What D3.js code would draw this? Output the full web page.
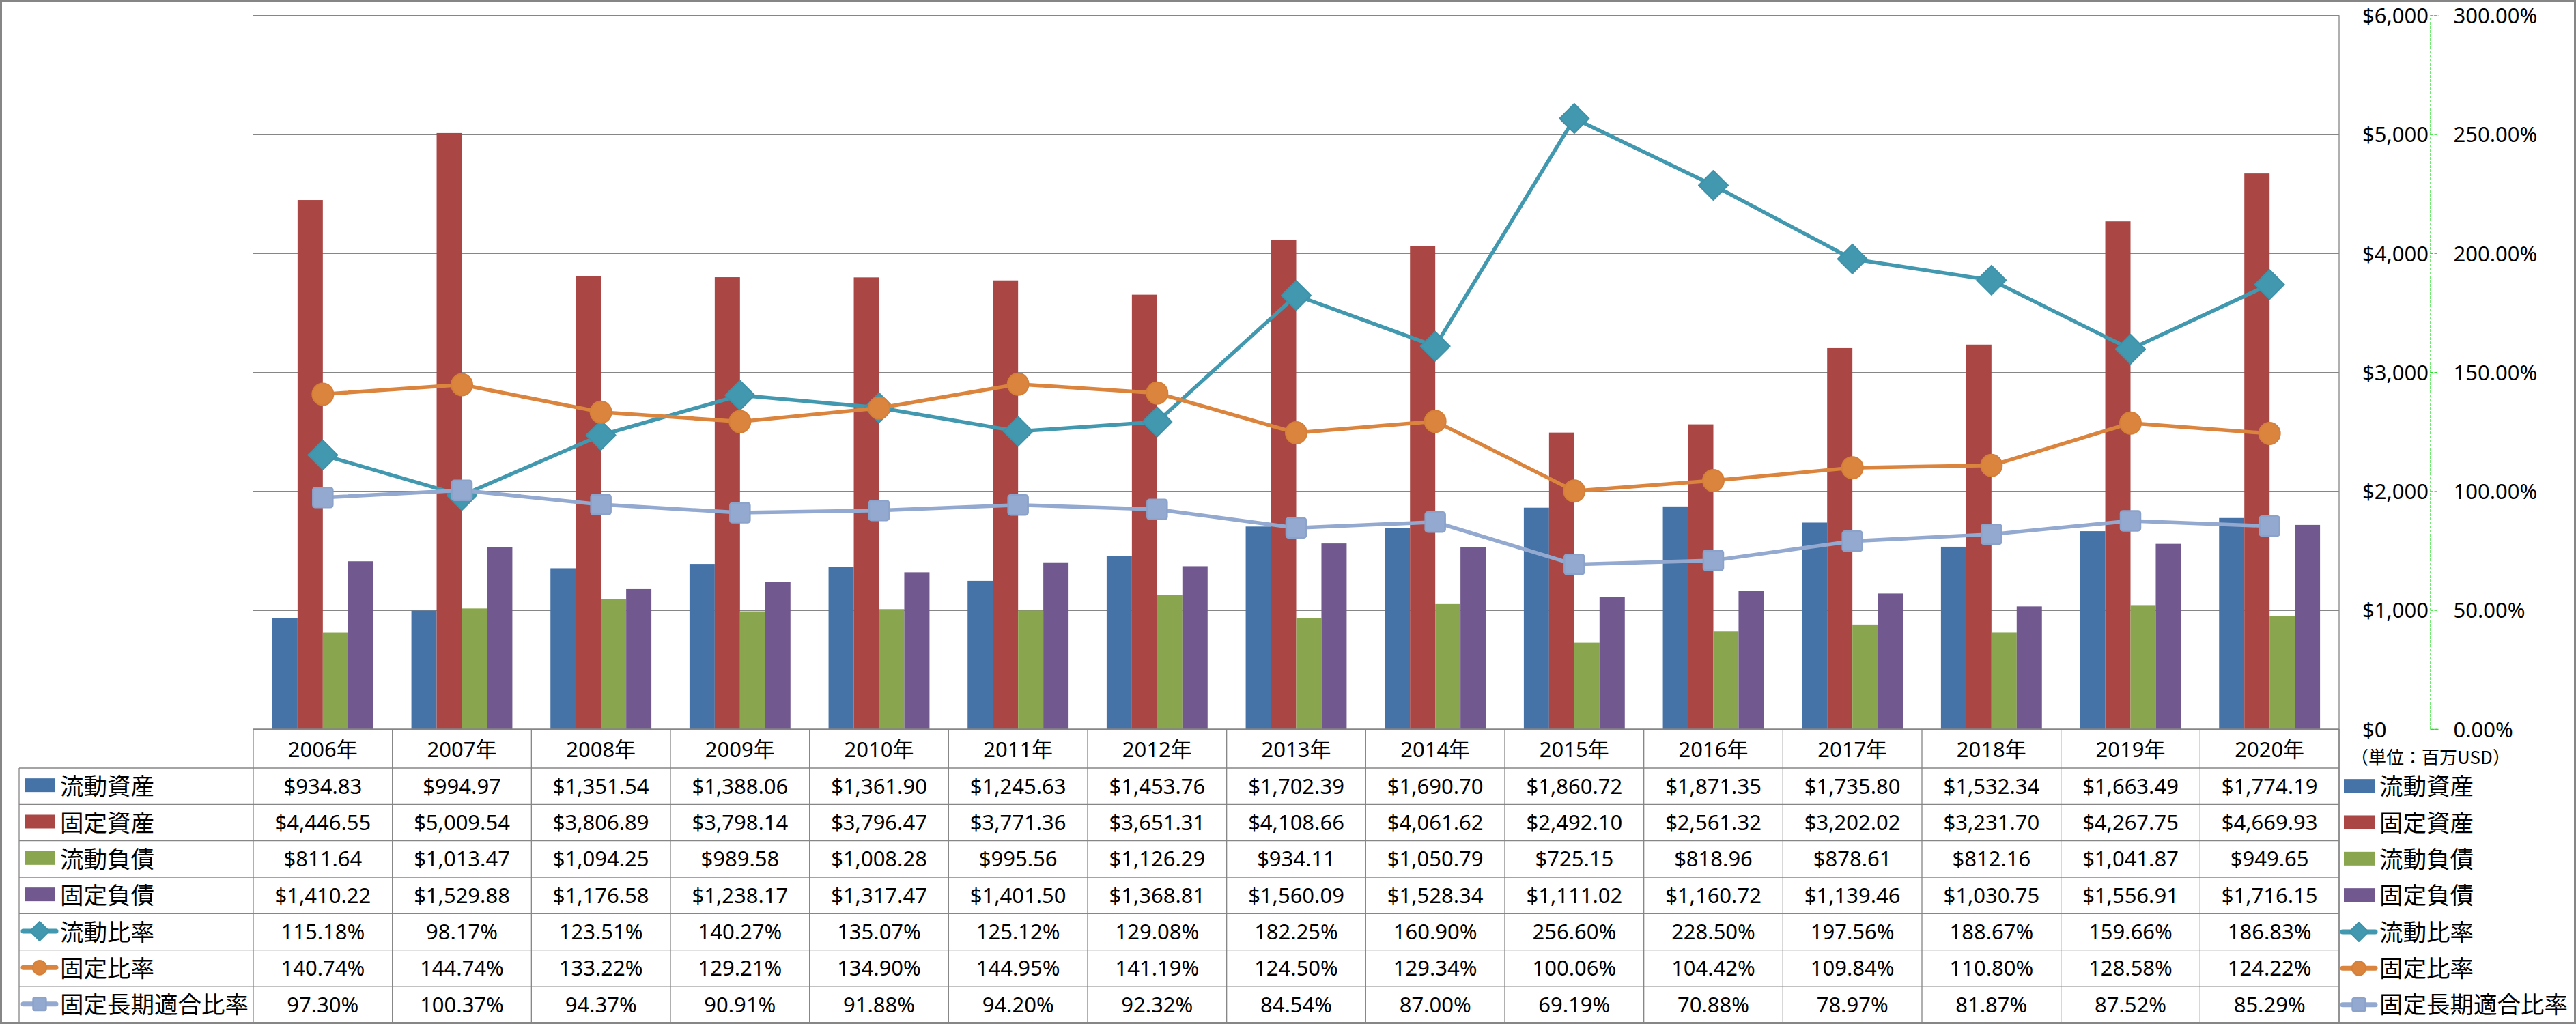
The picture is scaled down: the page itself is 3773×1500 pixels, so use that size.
<!DOCTYPE html>
<html>
<head>
<meta charset="utf-8">
<script src="https://cdn.jsdelivr.net/npm/d3@7"></script>
<style>
  html, body { margin: 0; padding: 0; background: #fff; }
  svg { display: block; }
</style>
</head>
<body>
<div id="chart"></div>
<script>
// ---------------- DATA ----------------
const years = ["2006年","2007年","2008年","2009年","2010年","2011年","2012年","2013年","2014年","2015年","2016年","2017年","2018年","2019年","2020年"];

const seriesNames = ["流動資産","固定資産","流動負債","固定負債","流動比率","固定比率","固定長期適合比率"];

const currentAssets = [934.83, 994.97, 1351.54, 1388.06, 1361.90, 1245.63, 1453.76, 1702.39, 1690.70, 1860.72, 1871.35, 1735.80, 1532.34, 1663.49, 1774.19];
const fixedAssets = [4446.55, 5009.54, 3806.89, 3798.14, 3796.47, 3771.36, 3651.31, 4108.66, 4061.62, 2492.10, 2561.32, 3202.02, 3231.70, 4267.75, 4669.93];
const currentLiabilities = [811.64, 1013.47, 1094.25, 989.58, 1008.28, 995.56, 1126.29, 934.11, 1050.79, 725.15, 818.96, 878.61, 812.16, 1041.87, 949.65];
const fixedLiabilities = [1410.22, 1529.88, 1176.58, 1238.17, 1317.47, 1401.50, 1368.81, 1560.09, 1528.34, 1111.02, 1160.72, 1139.46, 1030.75, 1556.91, 1716.15];
const currentRatio = [115.18, 98.17, 123.51, 140.27, 135.07, 125.12, 129.08, 182.25, 160.90, 256.60, 228.50, 197.56, 188.67, 159.66, 186.83];
const fixedRatio = [140.74, 144.74, 133.22, 129.21, 134.90, 144.95, 141.19, 124.50, 129.34, 100.06, 104.42, 109.84, 110.80, 128.58, 124.22];
const fixedLongTermRatio = [97.30, 100.37, 94.37, 90.91, 91.88, 94.20, 92.32, 84.54, 87.00, 69.19, 70.88, 78.97, 81.87, 87.52, 85.29];

const leftTicks = [0, 1000, 2000, 3000, 4000, 5000, 6000];
const rightTicks = [0, 50, 100, 150, 200, 250, 300];
const unitLabel = "（単位：百万USD）";

// ---------------- SETUP ----------------
const W = 3773, H = 1500;
const colors = ["#4572A7", "#AA4643", "#89A54E", "#71588F", "#4198AF", "#DB843D", "#93A9CF"];
const markerStroke = ["", "", "", "", "#3E93AA", "#D57F38", "#8BA3CB"];
const barSeries = [currentAssets, fixedAssets, currentLiabilities, fixedLiabilities];
const lineSeries = [currentRatio, fixedRatio, fixedLongTermRatio];
const markerTypes = ["diamond", "circle", "square"];

const numFont = "'Noto Sans', 'Noto Sans CJK JP', sans-serif";
const cjkFont = "'Noto Sans CJK JP', 'Noto Sans', sans-serif";
const gridColor = "#868686";

const plotLeft = 371, plotRight = 3426, plotTop = 22.3, plotBottom = 1068;
const headerBottom = 1125, tableBottom = 1498.3, labelLeft = 28;
const rowH = (tableBottom - headerBottom) / 7;

const svg = d3.select("#chart").append("svg")
  .attr("width", W).attr("height", H)
  .attr("viewBox", `0 0 ${W} ${H}`);

svg.append("rect").attr("width", W).attr("height", H).attr("fill", "#fff");

const x = d3.scaleBand().domain(years).range([plotLeft, plotRight])
  .paddingInner(0.274).paddingOuter(0.137);
const xStep = x.step();
const xSub = d3.scaleBand().domain(d3.range(barSeries.length)).range([0, x.bandwidth()]);
const yL = d3.scaleLinear().domain([0, 6000]).range([plotBottom, plotTop]);
const yR = d3.scaleLinear().domain([0, 300]).range([plotBottom, plotTop]);
const cx = d => x(d) + x.bandwidth() / 2;

// ---------------- GRIDLINES ----------------
svg.append("g")
  .selectAll("line").data(leftTicks).join("line")
  .attr("x1", plotLeft - 1).attr("x2", plotRight)
  .attr("y1", d => Math.round(yL(d)) + 0.5).attr("y2", d => Math.round(yL(d)) + 0.5)
  .attr("stroke", gridColor).attr("stroke-width", 1.2);

// ---------------- BARS ----------------
const barG = svg.append("g");
barSeries.forEach((vals, si) => {
  barG.append("g").selectAll("rect").data(vals).join("rect")
    .attr("x", (v, i) => x(years[i]) + xSub(si))
    .attr("width", xSub.bandwidth())
    .attr("y", v => yL(v))
    .attr("height", v => yL(0) - yL(v))
    .attr("fill", colors[si]);
});

// ---------------- MARKERS ----------------
function drawMarker(g, type, cxp, cyp, scale, color, stroke) {
  if (type === "diamond") {
    const r = 21.5 * scale;
    g.append("path")
      .attr("d", `M${cxp},${cyp - r}L${cxp + r},${cyp}L${cxp},${cyp + r}L${cxp - r},${cyp}Z`)
      .attr("fill", color).attr("stroke", stroke).attr("stroke-width", 2).attr("stroke-linejoin", "round");
  } else if (type === "circle") {
    g.append("ellipse").attr("cx", cxp).attr("cy", cyp)
      .attr("rx", 15.5 * scale).attr("ry", 16 * scale)
      .attr("fill", color).attr("stroke", stroke).attr("stroke-width", 2);
  } else {
    const s = 29 * scale;
    g.append("rect").attr("x", cxp - s / 2).attr("y", cyp - s / 2)
      .attr("width", s).attr("height", s).attr("rx", 3.5 * scale)
      .attr("fill", color).attr("stroke", stroke).attr("stroke-width", 2.5);
  }
}

// ---------------- LINES ----------------
const lineG = svg.append("g");
lineSeries.forEach((vals, li) => {
  const si = li + 4;
  const line = d3.line().x((v, i) => cx(years[i])).y(v => yR(v));
  const g = lineG.append("g");
  g.append("path").datum(vals).attr("d", line)
    .attr("fill", "none").attr("stroke", colors[si]).attr("stroke-width", 5.5)
    .attr("stroke-linejoin", "round").attr("stroke-linecap", "round");
  vals.forEach((v, i) => drawMarker(g, markerTypes[li], cx(years[i]), yR(v), 1, colors[si], markerStroke[si]));
});

// ---------------- AXES (right side) ----------------
// $ labels (primary axis), left-aligned
const axL = d3.axisRight(yL).tickValues(leftTicks).tickSize(0).tickPadding(0)
  .tickFormat(d3.format("$,.0f"));
const gL = svg.append("g").attr("transform", "translate(3460,0)").call(axL);
gL.select(".domain").remove();
gL.selectAll("text").attr("font-family", numFont).attr("font-size", 31).attr("fill", "#000")
  .attr("text-anchor", "start").attr("x", 0).attr("dy", "0.36em");

// % axis with green dashed line
const axR = d3.axisRight(yR).tickValues(rightTicks).tickSizeInner(12).tickSizeOuter(12).tickPadding(22)
  .tickFormat(d => d3.format(".2f")(d) + "%");
const gR = svg.append("g").attr("transform", "translate(3559.5,0)").call(axR);
gR.select(".domain").attr("stroke", "#22e022").attr("stroke-width", 1.3).attr("stroke-dasharray", "4,2");
gR.selectAll(".tick line").attr("stroke", "#22e022").attr("stroke-width", 1.3).attr("stroke-dasharray", "4,2");
gR.selectAll("text").attr("font-family", numFont).attr("font-size", 31).attr("fill", "#000")
  .attr("dy", "0.36em");

svg.append("text").attr("x", 3560).attr("y", 1110).attr("dy", "0.36em")
  .attr("text-anchor", "middle").attr("font-family", cjkFont).attr("font-size", 26)
  .attr("fill", "#000").text(unitLabel);

// ---------------- DATA TABLE ----------------
const tbl = svg.append("g");
const lineAttrs = sel => sel.attr("stroke", gridColor).attr("stroke-width", 1.3).attr("fill", "none");

// header top line (x-axis)
tbl.append("line").attr("x1", plotLeft).attr("x2", plotRight).attr("y1", plotBottom).attr("y2", plotBottom).call(lineAttrs);
// row lines
const rowYs = d3.range(8).map(i => headerBottom + i * rowH);
tbl.selectAll(".rl").data(rowYs).join("line").attr("class", "rl")
  .attr("x1", labelLeft).attr("x2", plotRight).attr("y1", d => d).attr("y2", d => d).call(lineAttrs);
// vertical lines between categories
const colXs = d3.range(years.length + 1).map(i => plotLeft + i * xStep);
tbl.selectAll(".cl").data(colXs).join("line").attr("class", "cl")
  .attr("x1", d => d).attr("x2", d => d).attr("y1", plotBottom).attr("y2", tableBottom).call(lineAttrs);
// right edge extends up to plot top
tbl.append("line").attr("x1", plotRight).attr("x2", plotRight).attr("y1", plotTop).attr("y2", tableBottom).call(lineAttrs);
// label column left border
tbl.append("line").attr("x1", labelLeft).attr("x2", labelLeft).attr("y1", headerBottom).attr("y2", tableBottom).call(lineAttrs);

// header years
tbl.selectAll(".yr").data(years).join("text").attr("class", "yr")
  .attr("x", d => cx(d)).attr("y", (plotBottom + headerBottom) / 2 + 1).attr("dy", "0.36em")
  .attr("text-anchor", "middle").attr("font-family", numFont).attr("font-size", 31).attr("fill", "#000")
  .text(d => d);

const moneyFmt = d3.format("$,.2f");
const pctFmt = v => d3.format(".2f")(v) + "%";
const allSeries = [currentAssets, fixedAssets, currentLiabilities, fixedLiabilities, currentRatio, fixedRatio, fixedLongTermRatio];

function legendKey(g, si, x0, yc, isTable) {
  if (si < 4) {
    g.append("rect").attr("x", x0 + 3).attr("y", yc - 10.5).attr("width", 45).attr("height", 20).attr("fill", colors[si]);
  } else {
    g.append("line").attr("x1", x0 + 1).attr("x2", x0 + 49).attr("y1", yc).attr("y2", yc)
      .attr("stroke", colors[si]).attr("stroke-width", 7).attr("stroke-linecap", "round");
    drawMarker(g, markerTypes[si - 4], x0 + 25, yc, 0.65, colors[si], markerStroke[si]);
  }
}

allSeries.forEach((vals, si) => {
  const yc = headerBottom + (si + 0.5) * rowH;
  const fmt = si < 4 ? moneyFmt : pctFmt;
  tbl.append("g").selectAll("text").data(vals).join("text")
    .attr("x", (v, i) => cx(years[i])).attr("y", yc).attr("dy", "0.36em")
    .attr("text-anchor", "middle").attr("font-family", numFont).attr("font-size", 31).attr("fill", "#000")
    .text(v => fmt(v));
  // table legend
  const lg = tbl.append("g");
  legendKey(lg, si, 33, yc - 1, true);
  lg.append("text").attr("x", 88).attr("y", yc).attr("dy", "0.37em")
    .attr("font-family", cjkFont).attr("font-size", 34.5).attr("fill", "#000").text(seriesNames[si]);
  // right legend
  const rg = svg.append("g");
  legendKey(rg, si, 3430, yc, false);
  rg.append("text").attr("x", 3485).attr("y", yc).attr("dy", "0.37em")
    .attr("font-family", cjkFont).attr("font-size", 34.5).attr("fill", "#000").text(seriesNames[si]);
});

// ---------------- OUTER FRAME ----------------
svg.append("rect").attr("x", 1.5).attr("y", 1.5).attr("width", W - 3).attr("height", H - 3)
  .attr("fill", "none").attr("stroke", gridColor).attr("stroke-width", 3);
</script>
</body>
</html>
